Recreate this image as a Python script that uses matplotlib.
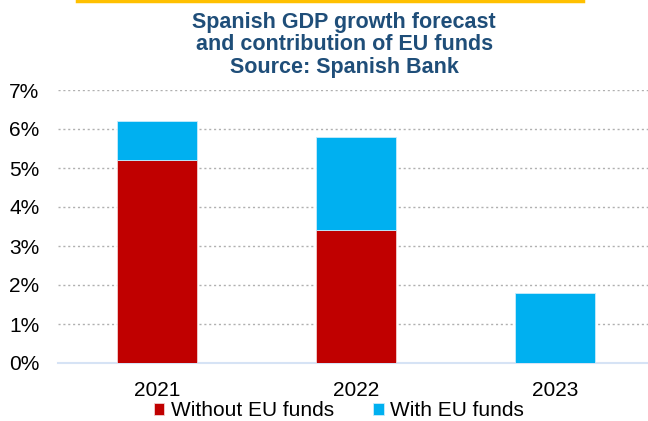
import numpy as np
import matplotlib.pyplot as plt
from matplotlib.lines import Line2D

plt.rcParams['font.family'] = ['Liberation Sans', 'DejaVu Sans']

# GDP growth forecast (%), Spanish Bank
years = ['2021', '2022', '2023']
without_eu = [5.2, 3.4, 0.0]
with_eu = [6.2, 5.8, 1.8]
eu_contribution = [w - wo for w, wo in zip(with_eu, without_eu)]

red = '#C00000'
blue = '#00B0F0'

fig = plt.figure(figsize=(6.48, 4.21), dpi=100)
ax = fig.add_axes([58/648, 58/421, 590/648, 273/421])

x = np.arange(len(years))
ax.bar(x, without_eu, width=0.4, color=red, edgecolor='#f2d0d0', linewidth=0.6,
       label='Without EU funds', zorder=3)
ax.bar(x, eu_contribution, width=0.4, bottom=without_eu, color=blue,
       edgecolor='#c8ecfb', linewidth=0.6, label='With EU funds', zorder=3)

ax.set_xlim(-0.497, 2.467)
ax.set_ylim(0, 7)
ax.set_yticks(range(0, 8))
ax.set_yticklabels([f'{v}%' for v in range(0, 8)], fontsize=15)
ax.set_xticks(x)
ax.set_xticklabels(years, fontsize=15)
ax.tick_params(length=0)
ax.tick_params(axis='y', pad=13.5)
ax.tick_params(axis='x', pad=13)

ax.grid(axis='y', color='#b0b0b0', linestyle=(0, (1.5, 2)), linewidth=1.0, zorder=0)
for s in ['top', 'right', 'left']:
    ax.spines[s].set_visible(False)
ax.spines['bottom'].set_color('#d6e3f5')
ax.spines['bottom'].set_linewidth(1.5)

ax.legend(loc='center', bbox_to_anchor=(0.476, -0.175), ncol=2, frameon=False,
          fontsize=15, handlelength=0.5, handleheight=0.5, handletextpad=0.3,
          columnspacing=1.9, borderaxespad=0)

fig.text(0.531, 0.972, 'Spanish GDP growth forecast\nand contribution of EU funds\nSource: Spanish Bank',
         ha='center', va='top', fontsize=15.5, fontweight='bold', color='#1F4E79',
         linespacing=1.1)

# accent line along the top edge
fig.add_artist(Line2D([77/648, 583/648], [0.997, 0.997], color='#FFC000',
                      linewidth=2.5, transform=fig.transFigure))

fig.savefig('out.png', dpi=100)
